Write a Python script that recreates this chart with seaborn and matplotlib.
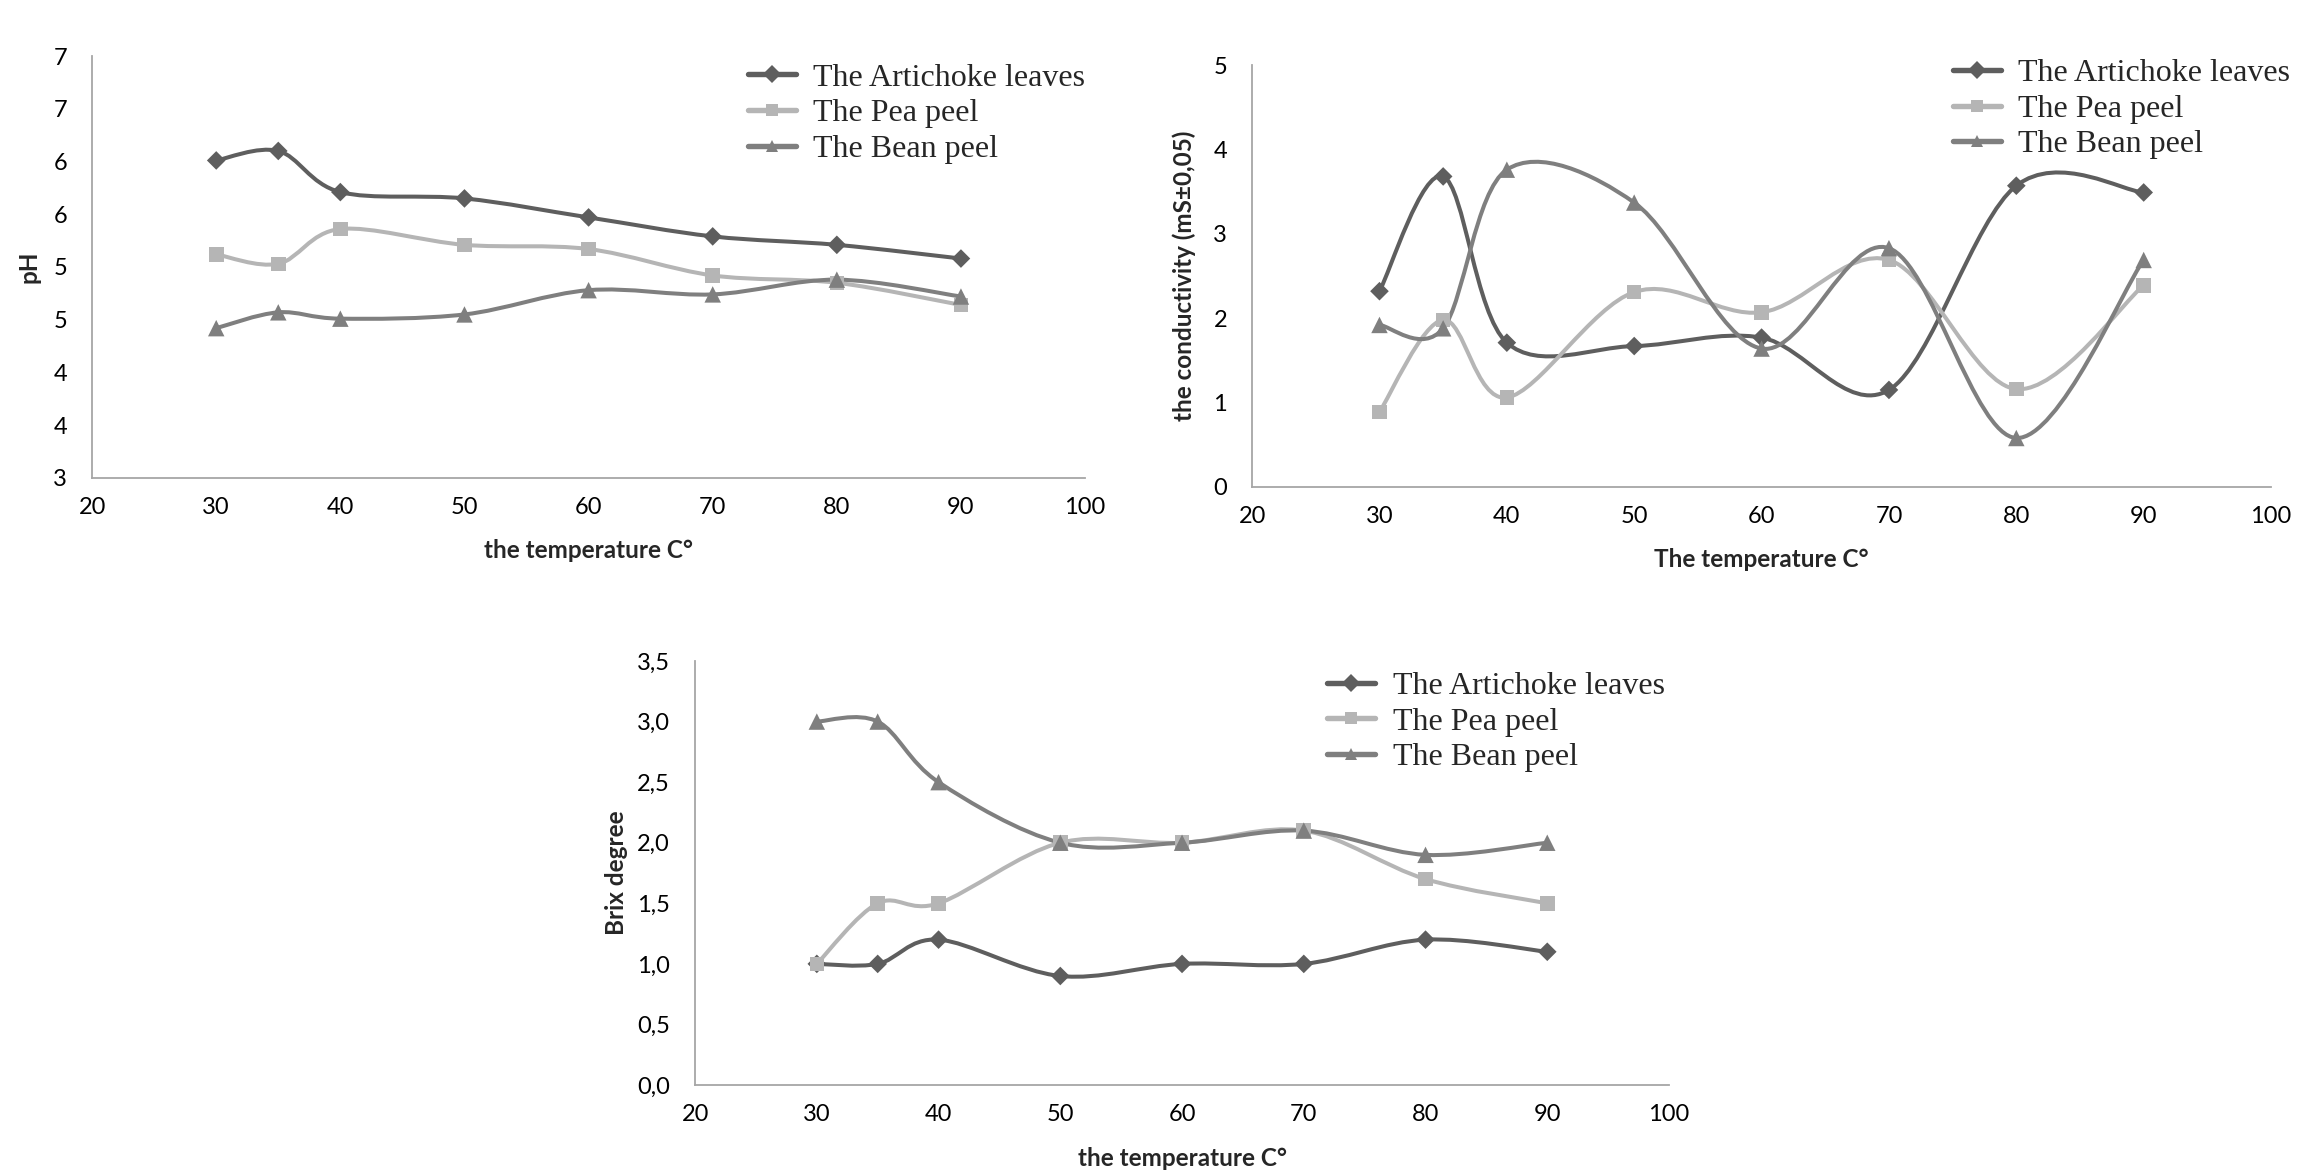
import numpy as np
import pandas as pd
import matplotlib
matplotlib.use("Agg")
import matplotlib.pyplot as plt
import matplotlib.ticker as mticker
from matplotlib.path import Path
from matplotlib.patches import PathPatch
from matplotlib.lines import Line2D
from matplotlib.font_manager import FontProperties
import seaborn as sns


# Data 
TEMPS = [30, 35, 40, 50, 60, 70, 80, 90]
SERIES = ["The Artichoke leaves", "The Pea peel", "The Bean peel"]

PH_ARTICHOKE = [6.01, 6.10, 5.71, 5.65, 5.47, 5.29, 5.21, 5.08]
PH_PEA       = [5.12, 5.03, 5.36, 5.21, 5.17, 4.92, 4.85, 4.64]
PH_BEAN      = [4.42, 4.57, 4.51, 4.55, 4.78, 4.74, 4.88, 4.72]

COND_ARTICHOKE = [2.32, 3.68, 1.71, 1.67, 1.77, 1.15, 3.57, 3.49]
COND_PEA       = [0.89, 1.98, 1.06, 2.31, 2.07, 2.69, 1.16, 2.39]
COND_BEAN      = [1.92, 1.88, 3.76, 3.37, 1.64, 2.83, 0.58, 2.69]

BRIX_ARTICHOKE = [1.0, 1.0, 1.2, 0.9, 1.0, 1.0, 1.2, 1.1]
BRIX_PEA       = [1.0, 1.5, 1.5, 2.0, 2.0, 2.1, 1.7, 1.5]
BRIX_BEAN      = [3.0, 3.0, 2.5, 2.0, 2.0, 2.1, 1.9, 2.0]

X_TICKS = [20, 30, 40, 50, 60, 70, 80, 90, 100]
PH_TICKS = [3, 3.5, 4, 4.5, 5, 5.5, 6, 6.5, 7]
COND_TICKS = [0, 1, 2, 3, 4, 5]
BRIX_TICKS = [0, 0.5, 1, 1.5, 2, 2.5, 3, 3.5]


# Style 
sns.set_theme(style="white")
plt.rcParams["font.family"] = ["Lato", "DejaVu Sans"]

COLORS = {
    "The Artichoke leaves": "#5e5e5e",
    "The Pea peel":         "#b5b5b5",
    "The Bean peel":        "#7f7f7f",
}
MARKERS = {
    "The Artichoke leaves": "D",
    "The Pea peel":         "s",
    "The Bean peel":        "^",
}
MARKER_SIZE = {"D": 90, "s": 110, "^": 140}
LINE_W = 2.9
AXIS_GRAY = "#a6a6a6"
LEGEND_FONT = FontProperties(family="Liberation Serif", size=23)


def to_long(a, b, c):
    """Stack the three series into a long table for seaborn."""
    frames = []
    for name, vals in zip(SERIES, [a, b, c]):
        frames.append(pd.DataFrame({"temp": TEMPS, "value": vals, "series": name}))
    return pd.concat(frames, ignore_index=True)


def smooth_path(xs, ys):
    """Excel-style smoothed line: cubic Bezier through the data points."""
    pts = np.column_stack([xs, ys]).astype(float)
    n = len(pts)
    verts, codes = [pts[0]], [Path.MOVETO]
    for i in range(n - 1):
        p_prev = pts[max(i - 1, 0)]
        p0, p1 = pts[i], pts[i + 1]
        p_next = pts[min(i + 2, n - 1)]
        verts += [p0 + (p1 - p_prev) / 6, p1 - (p_next - p0) / 6, p1]
        codes += [Path.CURVE4] * 3
    return Path(verts, codes)


def draw_panel(fig, rect, df, yticks, fmt, ylabel, xlabel, ylab_x, leg_anchor):
    ax = fig.add_axes(rect)

    for name in SERIES:
        sub = df[df["series"] == name]
        ax.add_patch(PathPatch(
            smooth_path(sub["temp"], sub["value"]), fill=False,
            edgecolor=COLORS[name], lw=LINE_W,
            capstyle="round", joinstyle="round", zorder=2,
        ))

    sns.scatterplot(
        data=df, x="temp", y="value", hue="series", style="series",
        palette=COLORS, markers=MARKERS, s=110, linewidth=0,
        legend=False, ax=ax, zorder=3,
    )
    # per-marker sizes
    coll = ax.collections[-1]
    coll.set_sizes([MARKER_SIZE[MARKERS[s]] for s in df["series"]])

    ax.set_xlim(20, 100)
    ax.set_ylim(yticks[0], yticks[-1])
    ax.set_xticks(X_TICKS)
    ax.set_yticks(yticks)
    ax.yaxis.set_major_formatter(mticker.FuncFormatter(fmt))

    sns.despine(ax=ax)
    for side in ("left", "bottom"):
        ax.spines[side].set_color(AXIS_GRAY)
        ax.spines[side].set_linewidth(1.3)
    ax.tick_params(axis="x", length=0, pad=14, labelsize=17, colors="black")
    ax.tick_params(axis="y", length=0, pad=18, labelsize=17, colors="black")

    ax.set_xlabel(xlabel, fontsize=17.5, fontweight="bold", va="top")
    ax.set_ylabel(ylabel, fontsize=17.5, fontweight="bold")
    ax.xaxis.set_label_coords(0.5, -0.145)
    ax.yaxis.set_label_coords(ylab_x, 0.5)

    handles = [
        Line2D([0], [0], color=COLORS[n], lw=LINE_W + 1, marker=MARKERS[n],
               markersize=9, markeredgewidth=0)
        for n in SERIES
    ]
    ax.legend(
        handles, SERIES, loc="upper left", bbox_to_anchor=leg_anchor,
        bbox_transform=fig.transFigure, frameon=False, prop=LEGEND_FONT,
        handlelength=1.5, handletextpad=0.55, labelspacing=0.2,
        borderpad=0, borderaxespad=0,
    )
    return ax


def main():
    fig = plt.figure(figsize=(23.2, 11.72), dpi=100)
    fig.patch.set_facecolor("white")

    draw_panel(
        fig, [0.0397, 0.5922, 0.428, 0.360],
        to_long(PH_ARTICHOKE, PH_PEA, PH_BEAN), PH_TICKS,
        lambda v, _: str(int(np.floor(v + 0.5))),
        "pH", "the temperature C°", -0.052, (0.3224, 0.946),
    )
    draw_panel(
        fig, [0.5397, 0.5845, 0.4392, 0.360],
        to_long(COND_ARTICHOKE, COND_PEA, COND_BEAN), COND_TICKS,
        lambda v, _: f"{int(round(v))}",
        "the conductivity (mS±0,05)", "The temperature C°", -0.055, (0.8418, 0.950),
    )
    draw_panel(
        fig, [0.2996, 0.0742, 0.4198, 0.3618],
        to_long(BRIX_ARTICHOKE, BRIX_PEA, BRIX_BEAN), BRIX_TICKS,
        lambda v, _: f"{v:.1f}".replace(".", ","),
        "Brix degree", "the temperature C°", -0.069, (0.572, 0.427),
    )

    fig.savefig("out.png", dpi=100, facecolor="white")
    plt.close(fig)


if __name__ == "__main__":
    main()
